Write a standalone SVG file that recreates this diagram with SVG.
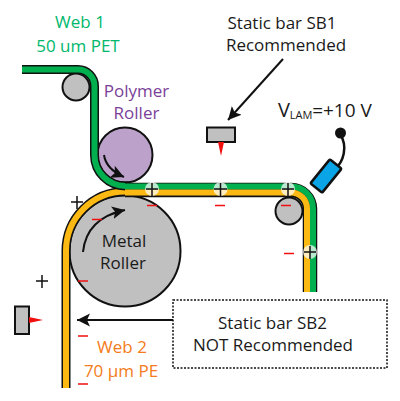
<svg xmlns="http://www.w3.org/2000/svg" width="400" height="401" viewBox="0 0 400 401">
<style>
text{font-family:"Open Sans","Noto Sans","Liberation Sans",sans-serif;font-size:17px;text-anchor:middle;fill:#1a1a1a}
.roller{fill:#c0c0c0;stroke:#111;stroke-width:2}
.edge{fill:none;stroke:#111}
.g{fill:none;stroke:#00b04f}
.y{fill:none;stroke:#fdb913}
.ln{fill:none;stroke:#111;stroke-width:2}
.m{stroke:#f01010;stroke-width:1.5}
.halo{fill:#fff;fill-opacity:.72}
.p{stroke:#111;stroke-width:1.5}
.bar{fill:#c0c0c0;stroke:#111;stroke-width:2}
</style>
<defs>
<marker id="ah" markerUnits="userSpaceOnUse" markerWidth="16" markerHeight="14" refX="13" refY="6.500" orient="auto"><path d="M0 0L13 6.500L0 13L3 6.500Z" fill="#111"/></marker>
</defs>
<g id="rollers">
<circle id="guide-top" class="roller" cx="76" cy="87" r="13.500"/>
<circle id="polymer-roller" cx="125" cy="155" r="27.500" fill="#bca1cb" stroke="#111" stroke-width="2"/>
<circle id="metal-roller" class="roller" cx="125" cy="251" r="55.500"/>
<circle id="guide-right" class="roller" cx="289" cy="211" r="13.500"/>
</g>
<g id="connectors">
<path class="edge" stroke-width="9" d="M66 388V251A59.500 59.500 0 0 1 125.500 191.500H126"/>
<path class="y" stroke-width="6" d="M66 388V251A59.500 59.500 0 0 1 125.500 191.500H128"/>
<path class="edge" stroke-width="9" d="M22 69.500H78A16.500 16.500 0 0 1 94.500 86V155A31 31 0 0 0 125.500 186H128"/>
<path class="g" stroke-width="6" d="M22 69.500H78A16.500 16.500 0 0 1 94.500 86V155A31 31 0 0 0 125.500 186H128"/>
<path class="edge" stroke-width="14.500" d="M125 190H291A19 19 0 0 1 310 209V292"/>
<path class="g" stroke-width="6" d="M125 186.500H291A22 22 0 0 1 313 208.500V292"/>
<path class="y" stroke-width="6" d="M125 192.500H291A16 16 0 0 1 307 208.500V292"/>
<path class="ln" d="M104 155Q106 169 124 177" marker-end="url(#ah)"/>
<path class="ln" d="M83 252C85 232 97 216 125 210" marker-end="url(#ah)"/>
<path class="ln" d="M283 59L228 120" marker-end="url(#ah)"/>
<path class="ln" d="M173 320H77" marker-end="url(#ah)"/>
<path d="M340 134C348 146 344 162 334 170" fill="none" stroke="#111" stroke-width="2.500"/>
</g>
<g id="static-bar-sb1">
<rect class="bar" x="207" y="127.500" width="28" height="14.500"/>
<path d="M218 142H224L221 156Z" fill="#f01010"/>
<text x="282" y="29">Static bar SB1</text>
<text x="286" y="51">Recommended</text>
</g>
<g id="static-bar-left">
<rect class="bar" x="15" y="306.500" width="14" height="27.500"/>
<path d="M29 317V323L43 320Z" fill="#f01010"/>
</g>
<g id="vlam-probe">
<circle cx="340.500" cy="133" r="5.500" fill="#111"/>
<rect x="-15.500" y="-7.500" width="31" height="15" fill="#0aa5e6" stroke="#111" stroke-width="2.500" rx="1.500" transform="translate(326 176) rotate(-51)"/>
<text x="284" y="117" style="font-size:20px">V</text>
<text x="301" y="119" style="font-size:11px">LAM</text>
<text x="342" y="117" style="font-size:19px">=+10 V</text>
</g>
<g id="charges">
<circle class="halo" cx="152" cy="189" r="7"/><path class="p" d="M146 189H158M152 183V196"/>
<circle class="halo" cx="220.500" cy="189" r="7"/><path class="p" d="M214 189H227M220.500 183V196"/>
<circle class="halo" cx="288" cy="189" r="7"/><path class="p" d="M282 189H294M288 183V196"/>
<circle class="halo" cx="310" cy="252" r="7"/><path class="p" d="M304 252H316M310 246V259"/>
<path class="p" d="M71 202H83M77 196V209M36 281H48M42 275V288"/>
<path class="m" d="M147 205.500H157M215 205.500H225M281 205.500H291M284 253.500H294M92 219.500H102M78 281H88M78 336H88M78 384H88"/>
</g>
<g id="labels">
<text x="80" y="28" style="fill:#00b86b">Web 1</text>
<text x="78" y="52" style="fill:#00b86b">50 um PET</text>
<text x="136.500" y="97" style="fill:#7b3f98">Polymer</text>
<text x="136.500" y="119" style="fill:#7b3f98">Roller</text>
<text x="124" y="247">Metal</text>
<text x="123" y="269">Roller</text>
<text x="122" y="353" style="fill:#f47b20">Web 2</text>
<text x="121" y="377" style="fill:#f47b20">70 µm PE</text>
</g>
<g id="note">
<rect x="173" y="300" width="214" height="68" fill="#fff" stroke="#111" stroke-width="1.500" stroke-dasharray="2 1.500"/>
<text x="272.500" y="329">Static bar SB2</text>
<text x="273" y="351">NOT Recommended</text>
</g>
</svg>
